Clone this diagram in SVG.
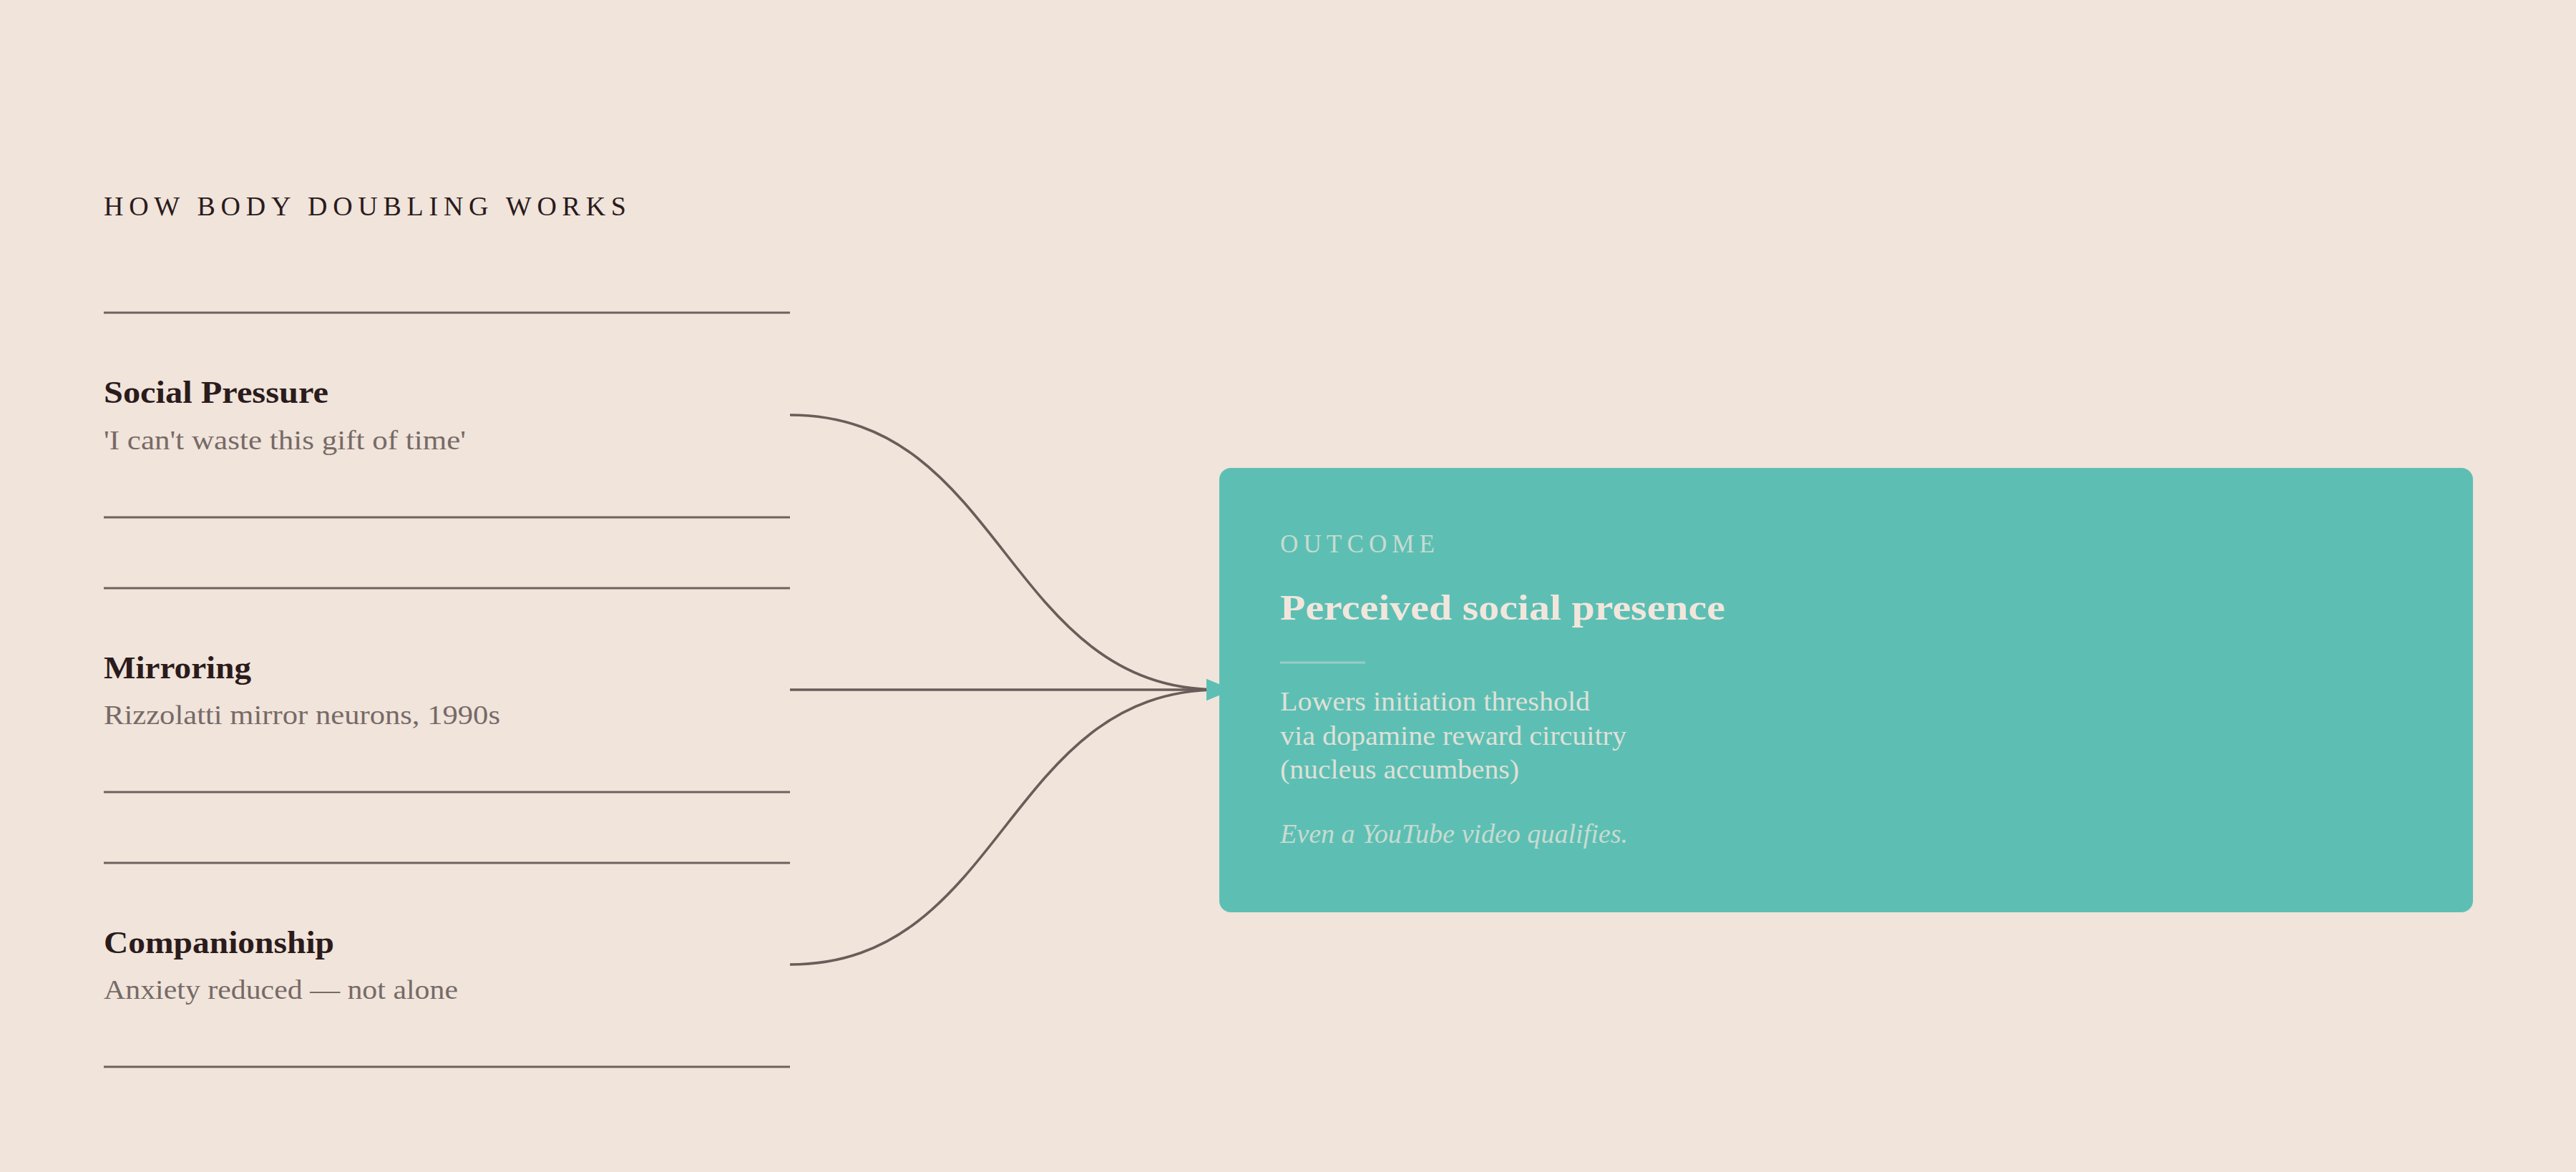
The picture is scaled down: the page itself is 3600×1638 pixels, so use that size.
<svg xmlns="http://www.w3.org/2000/svg" width="3600" height="1638" viewBox="0 0 3600 1638">
  <style>
    text { font-family: "Liberation Serif", "Times New Roman", serif; }
    .title { font-size: 38px; fill: #2b1b1b; }
    .head { font-size: 45px; font-weight: bold; fill: #2b1b1b; }
    .sub { font-size: 38px; fill: #776a66; }
    .rule { stroke: #6f625e; stroke-width: 3; }
    .link { fill: none; stroke: #6a5d59; stroke-width: 3.6; }
    .eyebrow { font-size: 35px; fill: #f2e6dc; fill-opacity: 0.72; }
    .otitle { font-size: 51px; font-weight: bold; fill: #f2e6dc; }
    .obody { font-size: 38px; fill: #f2e6dc; fill-opacity: 0.88; }
    .onote { font-size: 38px; font-style: italic; fill: #f2e6dc; fill-opacity: 0.72; }
  </style>
  <defs>
    <marker id="arrow" markerUnits="userSpaceOnUse" viewBox="0 0 36 30" markerWidth="36" markerHeight="30" refX="18" refY="15" orient="auto">
      <path d="M0,0 L36,15 L0,30 z" fill="#5dbfb4"/>
    </marker>
  </defs>
  <rect x="0" y="0" width="3600" height="1638" fill="#f0e4db"/>

  <text id="heading" class="title" x="145" y="301" textLength="730" lengthAdjust="spacing">HOW BODY DOUBLING WORKS</text>

  <g id="connectors">
    <path class="link" d="M1104,580 C1404,580 1404,964 1704,964" marker-end="url(#arrow)"/>
    <path class="link" d="M1104,964 L1704,964" marker-end="url(#arrow)"/>
    <path class="link" d="M1104,1348 C1404,1348 1404,964 1704,964" marker-end="url(#arrow)"/>
  </g>

  <g id="node-social-pressure">
    <line class="rule" x1="145" y1="437" x2="1104" y2="437"/>
    <text class="head" x="145" y="563" textLength="314" lengthAdjust="spacingAndGlyphs">Social Pressure</text>
    <text class="sub" x="145" y="628" textLength="506" lengthAdjust="spacingAndGlyphs">'I can't waste this gift of time'</text>
    <line class="rule" x1="145" y1="723" x2="1104" y2="723"/>
  </g>

  <g id="node-mirroring">
    <line class="rule" x1="145" y1="822" x2="1104" y2="822"/>
    <text class="head" x="145" y="948" textLength="206" lengthAdjust="spacingAndGlyphs">Mirroring</text>
    <text class="sub" x="145" y="1012" textLength="554" lengthAdjust="spacingAndGlyphs">Rizzolatti mirror neurons, 1990s</text>
    <line class="rule" x1="145" y1="1107" x2="1104" y2="1107"/>
  </g>

  <g id="node-companionship">
    <line class="rule" x1="145" y1="1206" x2="1104" y2="1206"/>
    <text class="head" x="145" y="1332" textLength="322" lengthAdjust="spacingAndGlyphs">Companionship</text>
    <text class="sub" x="145" y="1396" textLength="495" lengthAdjust="spacingAndGlyphs">Anxiety reduced — not alone</text>
    <line class="rule" x1="145" y1="1491" x2="1104" y2="1491"/>
  </g>

  <g id="node-outcome">
    <rect x="1704" y="654" width="1752" height="621" rx="16" ry="16" fill="#5dbfb4"/>
    <text class="eyebrow" x="1789" y="772" textLength="216" lengthAdjust="spacing">OUTCOME</text>
    <text class="otitle" x="1789" y="866" textLength="622" lengthAdjust="spacingAndGlyphs">Perceived social presence</text>
    <line x1="1789" y1="926" x2="1908" y2="926" stroke="#f2e6dc" stroke-opacity="0.4" stroke-width="3"/>
    <text class="obody" x="1789" y="993" textLength="433" lengthAdjust="spacingAndGlyphs">Lowers initiation threshold</text>
    <text class="obody" x="1789" y="1041" textLength="484" lengthAdjust="spacingAndGlyphs">via dopamine reward circuitry</text>
    <text class="obody" x="1789" y="1088" textLength="334" lengthAdjust="spacingAndGlyphs">(nucleus accumbens)</text>
    <text class="onote" x="1789" y="1178" textLength="486" lengthAdjust="spacingAndGlyphs">Even a YouTube video qualifies.</text>
  </g>
</svg>
